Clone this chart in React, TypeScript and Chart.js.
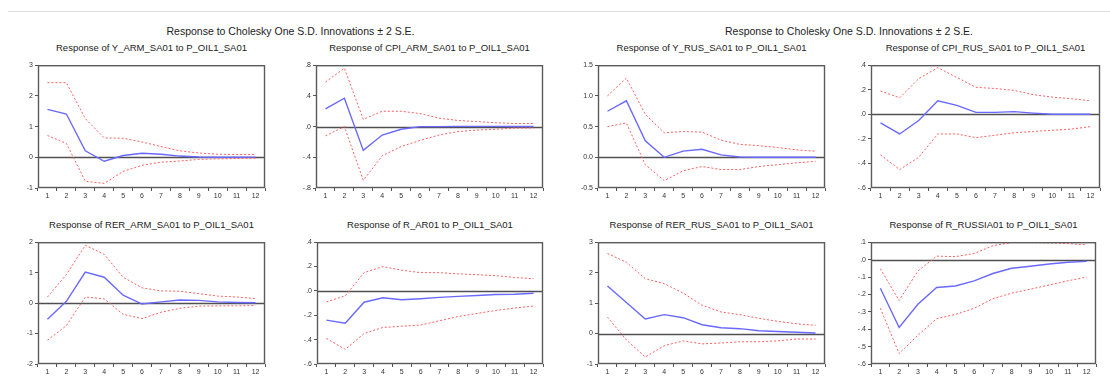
import React, { useEffect, useRef } from 'react';
import { Chart, registerables } from 'chart.js';

Chart.register(...registerables);

// ---------- data ----------
const periods = ['1', '2', '3', '4', '5', '6', '7', '8', '9', '10', '11', '12'];
const mainTitle = 'Response to Cholesky One S.D. Innovations \u00b1 2 S.E.';

// Response of Y_ARM_SA01
const yArmResp = [1.56, 1.41, 0.21, -0.13, 0.06, 0.13, 0.1, 0.04, 0.01, 0.0, 0.0, 0.0];
const yArmUpper = [2.43, 2.43, 1.26, 0.63, 0.62, 0.5, 0.35, 0.21, 0.14, 0.1, 0.09, 0.09];
const yArmLower = [0.71, 0.45, -0.78, -0.85, -0.46, -0.26, -0.16, -0.12, -0.07, -0.05, -0.04, -0.03];
const yArmTicks = [-1, 0, 1, 2, 3];
const yArmTickLabels = ['-1', '0', '1', '2', '3'];

// Response of CPI_ARM_SA01
const cpiArmResp = [0.23, 0.37, -0.31, -0.11, -0.035, 0.0, 0.0, 0.003, 0.003, 0.003, 0.002, 0.002];
const cpiArmUpper = [0.58, 0.76, 0.095, 0.2, 0.2, 0.17, 0.11, 0.08, 0.065, 0.05, 0.04, 0.04];
const cpiArmLower = [-0.12, 0.0, -0.7, -0.38, -0.26, -0.18, -0.11, -0.065, -0.045, -0.035, -0.02, -0.017];
const cpiArmTicks = [-0.8, -0.4, 0, 0.4, 0.8];
const cpiArmTickLabels = ['-.8', '-.4', '.0', '.4', '.8'];

// Response of Y_RUS_SA01
const yRusResp = [0.75, 0.92, 0.27, 0.0, 0.1, 0.13, 0.04, 0.005, 0.0, 0.0, 0.0, 0.0];
const yRusUpper = [1.0, 1.29, 0.7, 0.4, 0.42, 0.41, 0.28, 0.21, 0.19, 0.16, 0.12, 0.1];
const yRusLower = [0.5, 0.56, -0.12, -0.38, -0.22, -0.15, -0.2, -0.2, -0.15, -0.12, -0.09, -0.065];
const yRusTicks = [-0.5, 0, 0.5, 1.0, 1.5];
const yRusTickLabels = ['-0.5', '0.0', '0.5', '1.0', '1.5'];

// Response of CPI_RUS_SA01
const cpiRusResp = [-0.07, -0.16, -0.05, 0.11, 0.073, 0.016, 0.016, 0.022, 0.01, 0.0, 0.0, 0.0];
const cpiRusUpper = [0.19, 0.135, 0.29, 0.38, 0.3, 0.22, 0.21, 0.195, 0.16, 0.14, 0.127, 0.11];
const cpiRusLower = [-0.33, -0.45, -0.35, -0.16, -0.16, -0.19, -0.17, -0.15, -0.14, -0.13, -0.12, -0.1];
const cpiRusTicks = [-0.6, -0.4, -0.2, 0, 0.2, 0.4];
const cpiRusTickLabels = ['-.6', '-.4', '-.2', '.0', '.2', '.4'];

// Response of RER_ARM_SA01
const rerArmResp = [-0.53, 0.06, 1.02, 0.85, 0.26, -0.03, 0.04, 0.1, 0.09, 0.04, 0.02, 0.01];
const rerArmUpper = [0.2, 0.94, 1.9, 1.6, 0.85, 0.5, 0.4, 0.39, 0.31, 0.23, 0.2, 0.15];
const rerArmLower = [-1.22, -0.74, 0.2, 0.14, -0.37, -0.51, -0.3, -0.17, -0.1, -0.09, -0.09, -0.08];
const rerArmTicks = [-2, -1, 0, 1, 2];
const rerArmTickLabels = ['-2', '-1', '0', '1', '2'];

// Response of R_AR01
const rAr01Resp = [-0.24, -0.265, -0.093, -0.056, -0.072, -0.064, -0.053, -0.045, -0.037, -0.03, -0.027, -0.019];
const rAr01Upper = [-0.09, -0.04, 0.15, 0.2, 0.17, 0.15, 0.15, 0.14, 0.133, 0.125, 0.11, 0.1];
const rAr01Lower = [-0.39, -0.48, -0.35, -0.3, -0.29, -0.28, -0.245, -0.21, -0.185, -0.16, -0.14, -0.125];
const rAr01Ticks = [-0.6, -0.4, -0.2, 0, 0.2, 0.4];
const rAr01TickLabels = ['-.6', '-.4', '-.2', '.0', '.2', '.4'];

// Response of RER_RUS_SA01
const rerRusResp = [1.56, 1.02, 0.48, 0.62, 0.52, 0.29, 0.19, 0.16, 0.09, 0.065, 0.045, 0.02];
const rerRusUpper = [2.63, 2.34, 1.8, 1.64, 1.33, 0.93, 0.71, 0.62, 0.5, 0.4, 0.32, 0.27];
const rerRusLower = [0.54, -0.21, -0.77, -0.4, -0.24, -0.34, -0.31, -0.27, -0.27, -0.24, -0.18, -0.18];
const rerRusTicks = [-1, 0, 1, 2, 3];
const rerRusTickLabels = ['-1', '0', '1', '2', '3'];

// Response of R_RUSSIA01
const rRussiaResp = [-0.165, -0.39, -0.257, -0.16, -0.152, -0.122, -0.08, -0.05, -0.038, -0.025, -0.015, -0.01];
const rRussiaUpper = [-0.053, -0.235, -0.066, 0.02, 0.017, 0.035, 0.08, 0.098, 0.098, 0.096, 0.092, 0.085];
const rRussiaLower = [-0.28, -0.54, -0.435, -0.34, -0.315, -0.28, -0.225, -0.193, -0.17, -0.146, -0.122, -0.1];
const rRussiaTicks = [-0.6, -0.5, -0.4, -0.3, -0.2, -0.1, 0, 0.1];
const rRussiaTickLabels = ['-.6', '-.5', '-.4', '-.3', '-.2', '-.1', '.0', '.1'];

// ---------- panels ----------
type PanelCfg = {
  title: string;
  resp: number[];
  upper: number[];
  lower: number[];
  ticks: number[];
  tickLabels: string[];
  box: { l: number; t: number; w: number; h: number };
};

const panels: PanelCfg[] = [
  { title: 'Response of Y_ARM_SA01 to P_OIL1_SA01', resp: yArmResp, upper: yArmUpper, lower: yArmLower, ticks: yArmTicks, tickLabels: yArmTickLabels, box: { l: 38, t: 63, w: 227, h: 125 } },
  { title: 'Response of CPI_ARM_SA01 to P_OIL1_SA01', resp: cpiArmResp, upper: cpiArmUpper, lower: cpiArmLower, ticks: cpiArmTicks, tickLabels: cpiArmTickLabels, box: { l: 316, t: 63, w: 227, h: 125 } },
  { title: 'Response of Y_RUS_SA01 to P_OIL1_SA01', resp: yRusResp, upper: yRusUpper, lower: yRusLower, ticks: yRusTicks, tickLabels: yRusTickLabels, box: { l: 598, t: 63, w: 227, h: 125 } },
  { title: 'Response of CPI_RUS_SA01 to P_OIL1_SA01', resp: cpiRusResp, upper: cpiRusUpper, lower: cpiRusLower, ticks: cpiRusTicks, tickLabels: cpiRusTickLabels, box: { l: 871, t: 63, w: 229, h: 125 } },
  { title: 'Response of RER_ARM_SA01 to P_OIL1_SA01', resp: rerArmResp, upper: rerArmUpper, lower: rerArmLower, ticks: rerArmTicks, tickLabels: rerArmTickLabels, box: { l: 38, t: 240, w: 227, h: 124 } },
  { title: 'Response of R_AR01 to P_OIL1_SA01', resp: rAr01Resp, upper: rAr01Upper, lower: rAr01Lower, ticks: rAr01Ticks, tickLabels: rAr01TickLabels, box: { l: 317, t: 240, w: 226, h: 124 } },
  { title: 'Response of RER_RUS_SA01 to P_OIL1_SA01', resp: rerRusResp, upper: rerRusUpper, lower: rerRusLower, ticks: rerRusTicks, tickLabels: rerRusTickLabels, box: { l: 598, t: 240, w: 227, h: 124 } },
  { title: 'Response of R_RUSSIA01 to P_OIL1_SA01', resp: rRussiaResp, upper: rRussiaUpper, lower: rRussiaLower, ticks: rRussiaTicks, tickLabels: rRussiaTickLabels, box: { l: 871, t: 240, w: 225, h: 124 } },
];

const FONT = 'Arial, "Liberation Sans", sans-serif';
const AXIS_W = 32;
const AXIS_H = 16;
const PAD_T = 4;
const PAD_R = 6;

const framePlugin = {
  id: 'eviewsFrame',
  beforeDatasetsDraw(chart: any) {
    const { ctx, chartArea } = chart;
    const y = Math.round(chart.scales.y.getPixelForValue(0)) + 0.5;
    ctx.save();
    ctx.strokeStyle = '#505050';
    ctx.lineWidth = 1.4;
    ctx.beginPath();
    ctx.moveTo(chartArea.left, y);
    ctx.lineTo(chartArea.right, y);
    ctx.stroke();
    ctx.restore();
  },
  afterDraw(chart: any) {
    const { ctx, chartArea } = chart;
    ctx.save();
    ctx.strokeStyle = '#5a5a5a';
    ctx.lineWidth = 1.4;
    ctx.strokeRect(chartArea.left + 0.5, chartArea.top + 0.5, chartArea.right - chartArea.left - 1, chartArea.bottom - chartArea.top - 1);
    ctx.restore();
  },
};

function Panel({ cfg }: { cfg: PanelCfg }) {
  const ref = useRef<HTMLCanvasElement | null>(null);
  const { l, t, w, h } = cfg.box;
  const cw = w + AXIS_W + PAD_R;
  const ch = h + PAD_T + AXIS_H;

  useEffect(() => {
    if (!ref.current) return;
    const chart = new Chart(ref.current, {
      type: 'line',
      data: {
        labels: periods,
        datasets: [
          { data: cfg.upper, borderColor: 'rgb(255,95,95)', borderWidth: 1, borderDash: [2, 2], pointRadius: 0, tension: 0, fill: false },
          { data: cfg.lower, borderColor: 'rgb(255,95,95)', borderWidth: 1, borderDash: [2, 2], pointRadius: 0, tension: 0, fill: false },
          { data: cfg.resp, borderColor: 'rgb(105,105,255)', borderWidth: 1.4, pointRadius: 0, tension: 0, fill: false },
        ],
      },
      options: {
        responsive: false,
        maintainAspectRatio: false,
        animation: false,
        devicePixelRatio: 1,
        layout: { padding: { left: 0, right: PAD_R, top: PAD_T, bottom: 0 } },
        plugins: { legend: { display: false }, tooltip: { enabled: false }, title: { display: false } },
        scales: {
          x: {
            type: 'category',
            offset: true,
            border: { display: false },
            grid: { display: true, drawOnChartArea: false, drawTicks: true, tickLength: 3, color: '#555', offset: true },
            ticks: { color: '#333', font: { family: FONT, size: 7 }, padding: 1, maxRotation: 0, autoSkip: false },
            afterFit: (s: any) => { s.height = AXIS_H; },
          },
          y: {
            type: 'linear',
            min: cfg.ticks[0],
            max: cfg.ticks[cfg.ticks.length - 1],
            border: { display: false },
            grid: { display: true, drawOnChartArea: false, drawTicks: true, tickLength: 3, color: '#555' },
            afterBuildTicks: (s: any) => { s.ticks = cfg.ticks.map((v) => ({ value: v })); },
            ticks: {
              color: '#333',
              font: { family: FONT, size: 7 },
              padding: 2,
              callback: (_v: any, i: number) => cfg.tickLabels[i],
            },
            afterFit: (s: any) => { s.width = AXIS_W; },
          },
        },
      },
      plugins: [framePlugin],
    } as any);
    return () => chart.destroy();
  }, []);

  return (
    <>
      <div
        style={{
          position: 'absolute',
          left: l - 40,
          width: w + 80,
          top: t - 20,
          lineHeight: '10px',
          fontSize: 9.5,
          fontFamily: FONT,
          color: '#222',
          textAlign: 'center',
          whiteSpace: 'nowrap',
        }}
      >
        {cfg.title}
      </div>
      <canvas
        ref={ref}
        width={cw}
        height={ch}
        style={{ position: 'absolute', left: l - AXIS_W, top: t - PAD_T, width: cw, height: ch }}
      />
    </>
  );
}

export default function App() {
  return (
    <div style={{ position: 'fixed', left: 0, top: 0, width: 1110, height: 379, background: '#fff', overflow: 'hidden' }}>
      <div style={{ position: 'absolute', left: 8, top: 11, width: 1102, height: 1, background: '#dedede' }} />
      <div style={{ position: 'absolute', left: 38, width: 505, top: 26, lineHeight: '10px', fontSize: 10.5, fontFamily: FONT, color: '#222', textAlign: 'center', whiteSpace: 'nowrap' }}>
        {mainTitle}
      </div>
      <div style={{ position: 'absolute', left: 598, width: 502, top: 26, lineHeight: '10px', fontSize: 10.5, fontFamily: FONT, color: '#222', textAlign: 'center', whiteSpace: 'nowrap' }}>
        {mainTitle}
      </div>
      {panels.map((p, i) => (
        <Panel key={i} cfg={p} />
      ))}
    </div>
  );
}
